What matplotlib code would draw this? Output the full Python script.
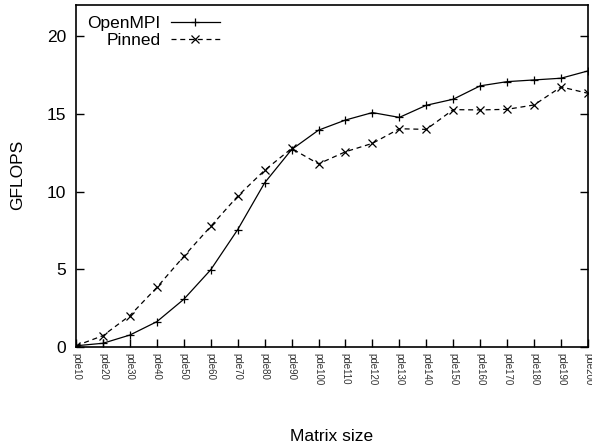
import matplotlib
matplotlib.use('Agg')
import matplotlib.pyplot as plt

plt.rcParams['font.family'] = ['Liberation Sans', 'DejaVu Sans']

# Messwerte (GFLOPS je Matrixgröße)
sizes = ['pde10', 'pde20', 'pde30', 'pde40', 'pde50', 'pde60', 'pde70', 'pde80',
         'pde90', 'pde100', 'pde110', 'pde120', 'pde130', 'pde140', 'pde150',
         'pde160', 'pde170', 'pde180', 'pde190', 'pde200']
openmpi = [0.08, 0.24, 0.77, 1.63, 3.07, 4.97, 7.55, 10.56, 12.7, 13.95,
           14.6, 15.08, 14.77, 15.55, 15.94, 16.8, 17.07, 17.18, 17.29, 17.76]
pinned = [0.08, 0.73, 2.02, 3.83, 5.83, 7.76, 9.7, 11.37, 12.77, 11.78,
          12.56, 13.1, 14.04, 14.0, 15.27, 15.25, 15.29, 15.57, 16.73, 16.32]

fig = plt.figure(figsize=(5.92, 4.47), dpi=100)
ax = fig.add_axes([0.1284, 0.2237, 0.8648, 0.7651])

x = list(range(len(sizes)))
ax.plot(x, openmpi, '-', color='black', lw=0.9, marker='+', ms=6, mew=0.9, label='OpenMPI')
ax.plot(x, pinned, '--', color='black', lw=0.9, marker='x', ms=5.5, mew=0.9,
        dashes=(4, 3), label='Pinned')

ax.set_xlim(0, len(sizes) - 1)
ax.set_ylim(0, 22)
ax.set_yticks([0, 5, 10, 15, 20])
ax.set_xticks(x)
ax.set_xticklabels(sizes, rotation=270, fontsize=7, va='top', ha='center', color='#333333')
ax.tick_params(axis='y', direction='in', length=6, width=1, labelsize=12.5, right=True, pad=7)
ax.tick_params(axis='x', direction='in', length=6, width=1, pad=4)
for s in ax.spines.values():
    s.set_linewidth(1.2)

ax.set_ylabel('GFLOPS', fontsize=12.5)
ax.yaxis.label.set_va('center')
ax.yaxis.set_label_coords(-0.115, 0.503)
ax.set_xlabel('Matrix size', fontsize=12.5)
ax.xaxis.label.set_va('center')
ax.xaxis.set_label_coords(0.5, -0.263)

ax.legend(loc='upper left', frameon=False, markerfirst=False, numpoints=1,
          fontsize=12.5, handlelength=2.8, handletextpad=0.6, labelspacing=0.1,
          borderaxespad=0.2, borderpad=0.45)

plt.savefig('out.png', dpi=100)
plt.close()
